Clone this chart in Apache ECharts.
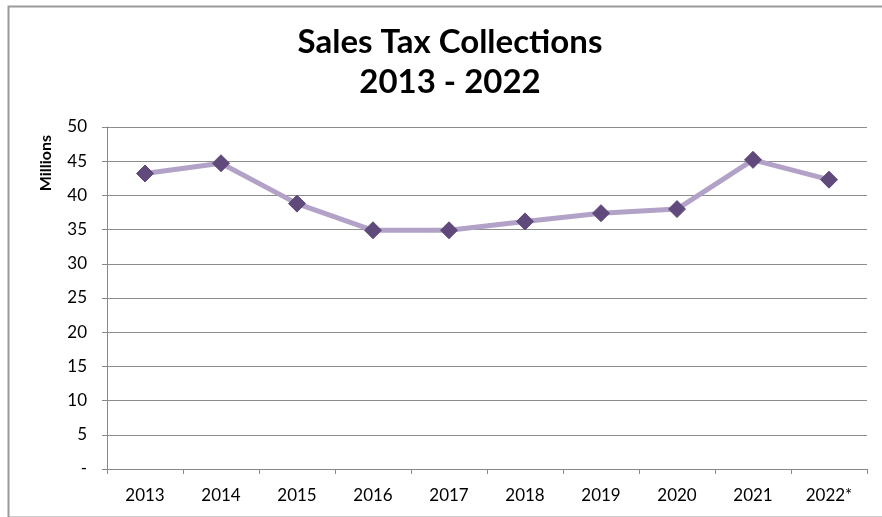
<!DOCTYPE html>
<html>
<head>
<meta charset="utf-8">
<script src="https://cdn.jsdelivr.net/npm/echarts@6/dist/echarts.min.js"></script>
<style>
html,body{margin:0;padding:0;background:#fff;}
#chart{width:882px;height:517px;}
</style>
</head>
<body>
<div id="chart"></div>
<script>
const categories = ['2013','2014','2015','2016','2017','2018','2019','2020','2021','2022*'];
const salesTax = [43.2, 44.7, 38.8, 34.9, 34.9, 36.2, 37.4, 38.0, 45.2, 42.3];
const titleLines = ['Sales Tax Collections', '2013 - 2022'];
const yAxisName = 'Millions';

const FONT = 'Lato, "Open Sans", sans-serif';
const chart = echarts.init(document.getElementById('chart'));
chart.setOption({
  animation: false,
  backgroundColor: '#fff',
  graphic: [{
    type: 'rect', left: 6, top: 4, silent: true,
    shape: { x: 0, y: 0, width: 880, height: 511 },
    style: { fill: 'none', stroke: '#9a9a9a', lineWidth: 2 }
  }],
  title: {
    text: titleLines.join('\n'),
    left: 445, top: 17, textAlign: 'center',
    textStyle: { fontFamily: FONT, fontWeight: 'bold', fontSize: 33, lineHeight: 40, color: '#000' }
  },
  grid: { left: 107, right: 15, top: 127, bottom: 48 },
  xAxis: {
    type: 'category', data: categories, boundaryGap: true,
    axisLine: { lineStyle: { color: '#888', width: 1 } },
    axisTick: { show: true, alignWithLabel: false, length: 5, lineStyle: { color: '#888' } },
    axisLabel: { fontFamily: FONT, fontSize: 17, color: '#000', margin: 18 }
  },
  yAxis: {
    type: 'value', min: 0, max: 50, interval: 5,
    name: yAxisName, nameLocation: 'end', nameRotate: 90,
    nameGap: 0,
    nameTextStyle: { fontFamily: FONT, fontWeight: 'bold', fontSize: 16, color: '#000', align: 'right', verticalAlign: 'bottom', padding: [0, 8, 53, 0] },
    axisLine: { show: true, lineStyle: { color: '#888', width: 1 } },
    axisTick: { show: true, length: 5, lineStyle: { color: '#888' } },
    splitLine: { lineStyle: { color: '#8c8c8c', width: 1 } },
    axisLabel: {
      fontFamily: FONT, fontSize: 17, color: '#000', margin: 20,
      formatter: v => v === 0 ? '-' : String(v)
    }
  },
  series: [{
    type: 'line', data: salesTax,
    lineStyle: { color: '#b3a2c7', width: 5 },
    symbol: 'diamond', symbolSize: 17,
    itemStyle: { color: '#604a7b', borderColor: '#604a7b', borderWidth: 1 },
    z: 3
  }]
});
</script>
</body>
</html>
